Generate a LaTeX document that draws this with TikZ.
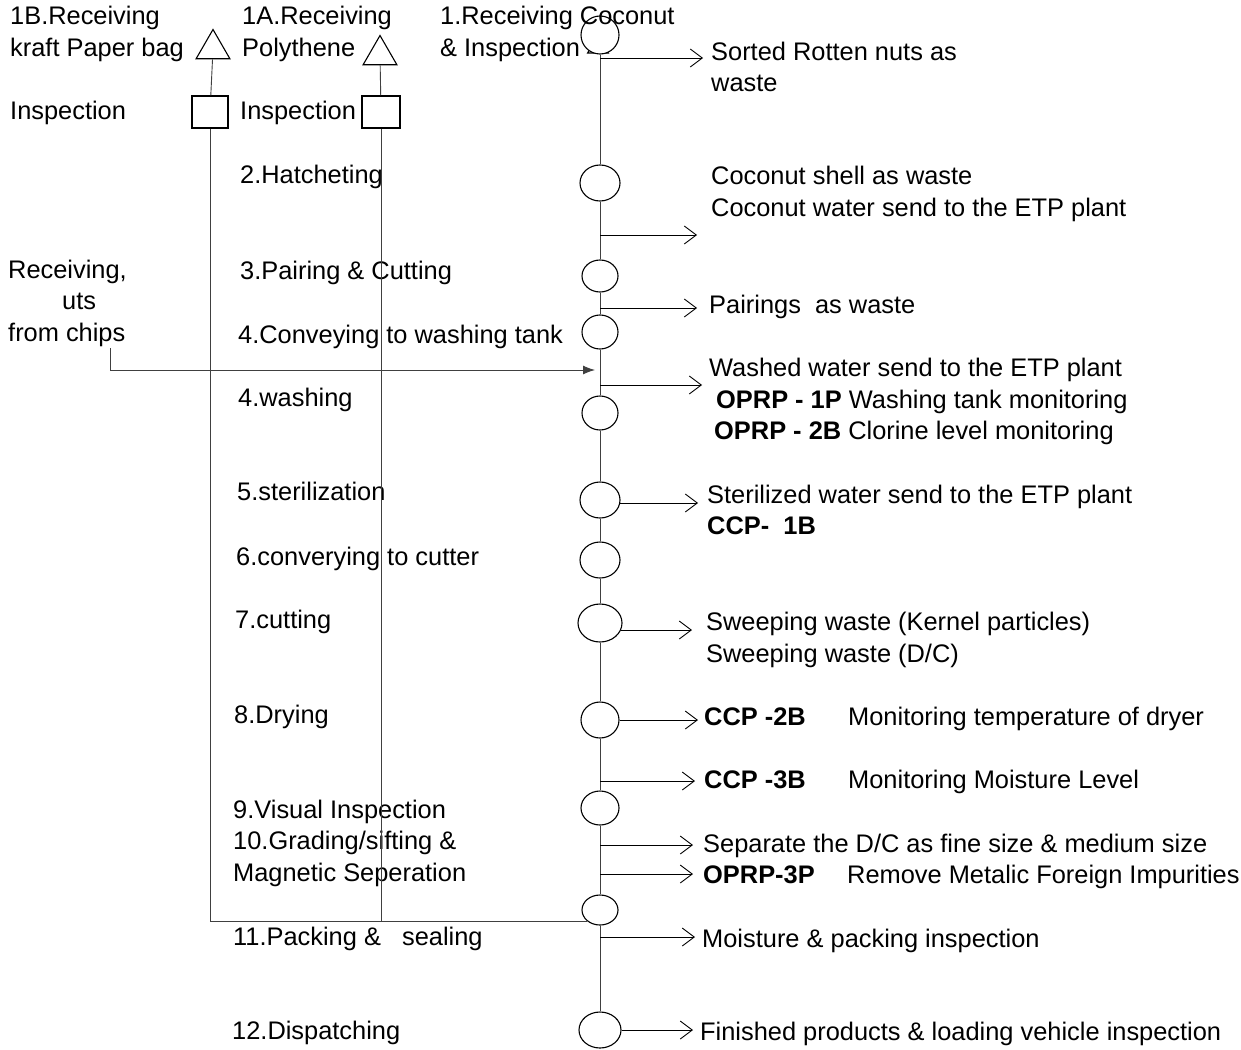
\documentclass[tikz,border=0pt]{standalone}
\usepackage{fontspec}
\setmainfont{Liberation Sans}
\usetikzlibrary{arrows.meta,shapes.geometric}

\begin{document}
\begin{tikzpicture}[x=1pt, y=-1pt,
  every node/.style={font=\fontsize{25.4}{31.5}\selectfont},
  lblm/.style={anchor=west, inner sep=0pt, align=left},
  lbl/.style={lblm, text height=18pt, text depth=5pt},
  stepnode/.style={draw, ellipse, fill=white, line width=1.1pt, minimum width=40pt, minimum height=36pt, inner sep=0pt},
  recv/.style={draw, regular polygon, regular polygon sides=3, minimum size=39pt, inner sep=0pt, line width=1.1pt},
  insp/.style={draw, rectangle, minimum width=36pt, minimum height=32pt, inner sep=0pt, line width=1.1pt},
  flow/.style={line width=0.9pt, black!75},
  outarr/.style={line width=0.9pt, -{Straight Barb[length=12pt,width=18pt]}},
  feed/.style={line width=0.9pt, black!75, -{Latex[length=12pt,width=9pt]}}
]
\useasboundingbox (0,0) rectangle (1241,1049);

% packing material branches
\node[recv] (tri1B) at (213,49) {};
\node[insp] (sq1B) at (210,112) {};
\node[recv] (tri1A) at (380,55) {};
\node[insp, minimum width=38pt] (sq1A) at (381,112) {};

% process steps
\node[recv, minimum size=24pt] (tri1) at (598,47) {};
\node[stepnode, minimum width=38pt, minimum height=38pt] (c1) at (600,35) {};
\node[stepnode] (c2) at (600,183) {};
\node[stepnode, minimum width=36pt, minimum height=32pt] (c3) at (600,276) {};
\node[stepnode, minimum width=36pt, minimum height=34pt] (c4) at (600,332) {};
\node[stepnode, minimum width=36pt, minimum height=34pt] (c5) at (600,413) {};
\node[stepnode] (c6) at (600,500) {};
\node[stepnode] (c7) at (600,560) {};
\node[stepnode, minimum width=44pt, minimum height=38pt] (c8) at (600,623) {};
\node[stepnode, minimum width=38pt] (c9) at (600,720) {};
\node[stepnode, minimum width=38pt, minimum height=34pt] (c10) at (600,808) {};
\node[stepnode, minimum width=36pt, minimum height=30pt] (c11) at (600,910) {};
\node[stepnode, minimum width=42pt] (c12) at (600,1030) {};

% left labels
\node[lblm] (lab1B) at (10,34) {1B.Receiving\\kraft Paper bag};
\node[lblm] (lab1A) at (242,34) {1A.Receiving\\Polythene};
\node[lblm] (lab1) at (440,34) {1.Receiving Coconut\\\& Inspection};
\node[lbl] (ins1B) at (10,113) {Inspection};
\node[lbl] (ins1A) at (240,113) {Inspection};
\node[lbl] (s2) at (240,177) {2.Hatcheting};
\node[lbl] (s3) at (240,273) {3.Pairing \& Cutting};
\node[lbl] (s4) at (238,337) {4.Conveying to washing tank};
\node[lbl] (s4b) at (238,400) {4.washing};
\node[lbl] (s5) at (237,494) {5.sterilization};
\node[lbl] (s6) at (236,559) {6.converying to cutter};
\node[lbl] (s7) at (235,622) {7.cutting};
\node[lbl] (s8) at (234,717) {8.Drying};
\node[lbl] (s9) at (233,812) {9.Visual Inspection};
\node[lblm] (s10) at (233,859) {10.Grading/sifting \&\\Magnetic Seperation};
\node[lbl] (s11) at (233,939) {11.Packing \& \ \ sealing};
\node[lbl] (s12) at (232,1033) {12.Dispatching};
\node[lblm] (rc) at (8,303) {Receiving,\\\hspace*{54pt}uts\\from chips};

% right labels
\node[lblm] (o1) at (711,67) {Sorted Rotten nuts as\\waste};
\node[lblm] (o2) at (711,194) {Coconut shell as waste\\Coconut water send to the ETP plant};
\node[lbl] (o3) at (709,307) {Pairings \ as waste};
\node[lbl] (o4a) at (709,370) {Washed water send to the ETP plant};
\node[lbl] (o4b) at (716,402) {\textbf{OPRP - 1P} Washing tank monitoring};
\node[lbl] (o4c) at (714,433) {\textbf{OPRP - 2B} Clorine level monitoring};
\node[lbl] (o5a) at (707,497) {Sterilized water send to the ETP plant};
\node[lbl] (o5b) at (707,528) {\textbf{CCP- \ 1B}};
\node[lbl] (o7a) at (706,624) {Sweeping waste (Kernel particles)};
\node[lbl] (o7b) at (706,656) {Sweeping waste (D/C)};
\node[lbl] (o8a) at (704,719) {\textbf{CCP -2B}};
\node[lbl] (o8b) at (848,719) {Monitoring temperature of dryer};
\node[lbl] (o9a) at (704,782) {\textbf{CCP -3B}};
\node[lbl] (o9b) at (848,782) {Monitoring Moisture Level};
\node[lbl] (o10a) at (703,846) {Separate the D/C as fine size \& medium size};
\node[lbl] (o10b) at (703,877) {\textbf{OPRP-3P}};
\node[lbl] (o10c) at (847,877) {Remove Metalic Foreign Impurities};
\node[lbl] (o11) at (702,941) {Moisture \& packing inspection};
\node[lbl] (o12) at (700,1034) {Finished products \& loading vehicle inspection};

% points on the main line
\coordinate (b1) at (600,58);
\coordinate (b2) at (600,235);
\coordinate (b3) at (600,308);
\coordinate (b4) at (600,385);
\coordinate (b6) at (620,503);
\coordinate (b8) at (621,630);
\coordinate (b9) at (600,781);
\coordinate (b10) at (600,845);
\coordinate (b10p) at (600,874);
\coordinate (b11) at (600,937);
\coordinate (washin) at (595,370);
\coordinate (chipsdrop) at (110,348);

% main flow
\draw[flow] (c1) -- (c2) -- (c3) -- (c4) -- (c5) -- (c6) -- (c7) -- (c8) -- (c9) -- (c10) -- (c11) -- (c12);
\draw[flow] (tri1B) -- (sq1B);
\draw[flow] (tri1A) -- (sq1A);
\draw[flow] (sq1B.south) |- (c11.south west);
\draw[flow] (sq1A.south) -- (sq1A.south |- c11.south west);
\draw[feed] (chipsdrop) |- (washin);

% outputs
\draw[outarr] (b1) -- ([xshift=-8pt]b1 -| o1.west);
\draw[outarr] (b2) -- ([xshift=-14pt]b2 -| o2.west);
\draw[outarr] (b3) -- ([xshift=-12pt]b3 -| o3.west);
\draw[outarr] (b4) -- ([xshift=-7pt]b4 -| o4a.west);
\draw[outarr] (b6) -- ([xshift=-9pt]b6 -| o5a.west);
\draw[outarr] (b8) -- ([xshift=-14pt]b8 -| o7a.west);
\draw[outarr] (c9.east) -- ([xshift=-6pt]c9.east -| o8a.west);
\draw[outarr] (b9) -- ([xshift=-9pt]b9 -| o9a.west);
\draw[outarr] (b10) -- ([xshift=-10pt]b10 -| o10a.west);
\draw[outarr] (b10p) -- ([xshift=-10pt]b10p -| o10b.west);
\draw[outarr] (b11) -- ([xshift=-7pt]b11 -| o11.west);
\draw[outarr] (c12.east) -- ([xshift=-7pt]c12.east -| o12.west);
\end{tikzpicture}
\end{document}
